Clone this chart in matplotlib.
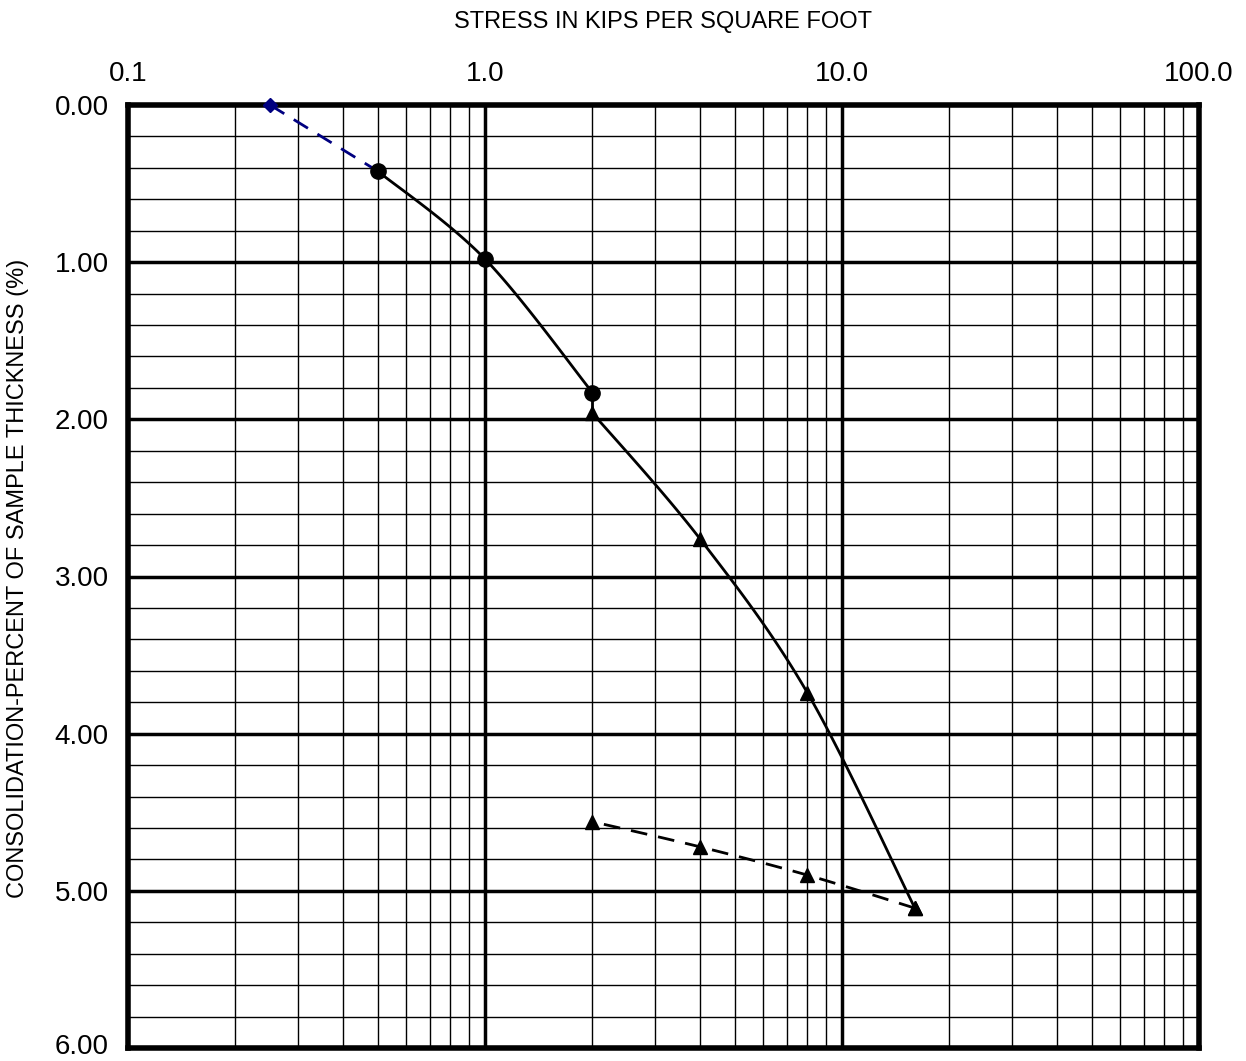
import numpy as np
import matplotlib
matplotlib.use("Agg")
import matplotlib.pyplot as plt
import matplotlib.transforms as mtransforms
from matplotlib.ticker import FixedLocator, NullFormatter

plt.rcParams['font.family'] = ['Liberation Sans', 'DejaVu Sans']

# ---- data ----
seat_x = [0.25, 0.5]
seat_y = [0.0, 0.42]
load_circ_x = [0.5, 1.0, 2.0]
load_circ_y = [0.42, 0.98, 1.83]
load_tri_x = [2.0, 4.0, 8.0, 16.0]
load_tri_y = [1.96, 2.76, 3.74, 5.11]
unload_x = [16.0, 8.0, 4.0, 2.0]
unload_y = [5.11, 4.90, 4.72, 4.56]

xtick_vals = [0.1, 1.0, 10.0, 100.0]
xtick_labels = ["0.1", "1.0", "10.0", "100.0"]
ytick_vals = [0, 1, 2, 3, 4, 5, 6]
ytick_labels = ["0.00", "1.00", "2.00", "3.00", "4.00", "5.00", "6.00"]

fig = plt.figure(figsize=(12.46, 10.61), dpi=100)
ax = fig.add_axes([128/1246, 1-1048/1061, (1199-128)/1246, (1048-105)/1061])
ax.set_xscale('log')
ax.set_xlim(0.1, 100)
ax.set_ylim(6, 0)

# grid
for d in [0.1, 1, 10]:
    for m in range(2, 10):
        ax.axvline(d*m, color='black', lw=1.0, zorder=1)
for d in [1, 10]:
    ax.axvline(d, color='black', lw=2.5, zorder=1)
for v in np.arange(0, 6.01, 0.2):
    ax.axhline(v, color='black', lw=1.0, zorder=1)
for v in range(1, 6):
    ax.axhline(v, color='black', lw=2.5, zorder=1)

for s in ax.spines.values():
    s.set_linewidth(4)

ax.xaxis.set_major_locator(FixedLocator(xtick_vals))
ax.xaxis.set_minor_locator(FixedLocator([]))
ax.xaxis.set_minor_formatter(NullFormatter())
ax.set_xticks(xtick_vals)
ax.set_xticklabels(xtick_labels)
ax.xaxis.tick_top()
ax.set_yticks(ytick_vals)
ax.set_yticklabels(ytick_labels)
ax.tick_params(axis='both', length=0, labelsize=20)
ax.tick_params(axis='y', pad=14)
ax.tick_params(axis='x', pad=13)

# nudge the bottom label so it stays inside the figure
last = ax.get_yticklabels()[-1]
last.set_transform(last.get_transform() + mtransforms.ScaledTranslation(0, 4/100, fig.dpi_scale_trans))

fig.text(663/1246, 1-22/1061, "STRESS IN KIPS PER SQUARE FOOT", ha='center', va='center', fontsize=17)
fig.text(18/1246, 1-578/1061, "CONSOLIDATION-PERCENT OF SAMPLE THICKNESS (%)", ha='center', va='center',
         rotation=90, fontsize=17)

fig.canvas.draw()

def smooth(xs, ys, n=40):
    pts = ax.transData.transform(np.column_stack([xs, ys]))
    if len(pts) < 3:
        return xs, ys
    P = np.vstack([pts[:1], pts, pts[-1:]])
    out = []
    for i in range(1, len(P)-2):
        p0, p1, p2, p3 = P[i-1], P[i], P[i+1], P[i+2]
        c1 = p1 + (p2 - p0) / 6.0
        c2 = p2 - (p3 - p1) / 6.0
        t = np.linspace(0, 1, n)[:, None]
        seg = ((1-t)**3)*p1 + 3*((1-t)**2)*t*c1 + 3*(1-t)*t**2*c2 + t**3*p2
        out.append(seg if i == 1 else seg[1:])
    out = np.vstack(out)
    d = ax.transData.inverted().transform(out)
    return d[:, 0], d[:, 1]

# seating line
ax.plot(seat_x, seat_y, color='#000080', lw=2, ls=(0, (6, 4)), zorder=3, clip_on=False)
ax.plot(seat_x[:1], seat_y[:1], marker='D', color='#000080', ms=7, ls='none', zorder=5, clip_on=False)

# loading curve
cx, cy = smooth(load_circ_x, load_circ_y)
ax.plot(cx, cy, color='black', lw=2, zorder=3)
ax.plot([load_circ_x[-1], load_tri_x[0]], [load_circ_y[-1], load_tri_y[0]], color='black', lw=2, zorder=3)
tx, ty = smooth(load_tri_x, load_tri_y)
ax.plot(tx, ty, color='black', lw=2, zorder=3)
ax.plot(load_circ_x, load_circ_y, 'o', color='black', ms=11, zorder=5)
ax.plot(load_tri_x, load_tri_y, '^', color='black', ms=10, zorder=5)

# unloading
ux, uy = smooth(unload_x, unload_y)
ax.plot(ux, uy, color='black', lw=2, ls=(0, (6, 4)), zorder=3)
ax.plot(unload_x, unload_y, '^', color='black', ms=10, zorder=5)

fig.savefig("out.png", dpi=100)
